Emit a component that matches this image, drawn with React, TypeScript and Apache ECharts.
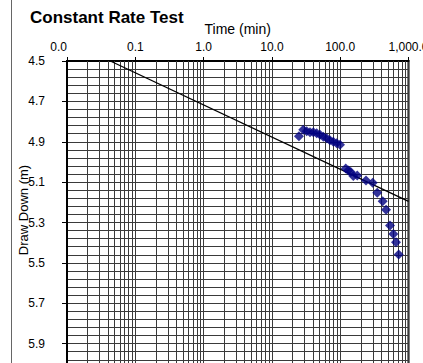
import React, { useEffect, useRef } from "react";
import * as echarts from "echarts";

const chartTitle = "Constant Rate Test";
const xAxisTitle = "Time (min)";
const yAxisTitle = "Draw Down (m)";

// measured points
const timeMin = [24.9, 28.8, 32.3, 36.1, 40.4, 45.3, 50.6, 56.6, 63.4, 70.8, 79.3, 88.9, 99.3, 120.5, 131.5, 142.6, 155.6, 177.8, 238.8, 299, 349, 419, 469, 536, 600, 656, 719];
const drawDown = [4.873, 4.84, 4.848, 4.853, 4.853, 4.858, 4.865, 4.875, 4.883, 4.892, 4.9, 4.907, 4.915, 5.032, 5.042, 5.05, 5.07, 5.067, 5.092, 5.103, 5.153, 5.195, 5.237, 5.315, 5.357, 5.398, 5.458];

// straight fit line (semi-log)
const fitTime = [0.043, 1000];
const fitDrawDown = [4.5, 5.195];

// axes
const xDecades = [0.01, 0.1, 1, 10, 100];
const xMinorMultipliers = [2, 3, 4, 5, 6, 7, 8, 9];
const xMin = 0.01;
const xMax = 1000;
const yMin = 4.5;
const yMax = 6.1;
const yStep = 0.2;

const FONT = "'Liberation Sans', Arial, sans-serif";

export default function App() {
  const ref = useRef<HTMLDivElement>(null);
  useEffect(() => {
    if (!ref.current) return;
    const chart = echarts.init(ref.current, null, { renderer: "svg" });
    const minorX: { xAxis: number }[] = [];
    xDecades.forEach((d) => xMinorMultipliers.forEach((m) => minorX.push({ xAxis: d * m })));
    const gridColor = "#3a3a3a";
    chart.setOption({
      animation: false,
      backgroundColor: "#fff",
      title: {
        text: chartTitle,
        left: 25,
        top: 4,
        textStyle: { fontFamily: FONT, fontSize: 17, fontWeight: "bold", color: "#000" },
      },
      graphic: [
        {
          type: "line",
          shape: { x1: 11.5, y1: 0, x2: 11.5, y2: 400 },
          style: { stroke: "#666", lineWidth: 1 },
        },
        {
          type: "text",
          x: 23,
          y: 210,
          rotation: Math.PI / 2,
          style: {
            text: yAxisTitle,
            fontFamily: FONT,
            fontSize: 13,
            fill: "#000",
            textAlign: "center",
            textVerticalAlign: "middle",
          },
        },
      ],
      grid: {
        left: 67,
        right: 14.5,
        top: 61,
        bottom: 16,
        show: true,
        borderColor: "#000",
        borderWidth: 2,
        backgroundColor: "transparent",
        outerBoundsMode: "none",
        containLabel: false,
      },
      xAxis: {
        type: "log",
        logBase: 10,
        position: "top",
        min: xMin,
        max: xMax,
        name: xAxisTitle,
        nameLocation: "middle",
        nameGap: 21,
        nameTextStyle: { fontFamily: FONT, fontSize: 14, color: "#000" },
        axisLine: { show: true, lineStyle: { color: "#000", width: 2 } },
        axisTick: { show: true, length: 4, lineStyle: { color: "#000" } },
        axisLabel: {
          fontFamily: FONT,
          fontSize: 12,
          color: "#000",
          margin: 8,
          alignMinLabel: "right",
          formatter: (v: number) =>
            v.toLocaleString("en-US", { minimumFractionDigits: 1, maximumFractionDigits: 1 }),
        },
        splitLine: { show: true, lineStyle: { color: gridColor, width: 1 } },
      },
      yAxis: {
        type: "value",
        inverse: true,
        min: yMin,
        max: yMax,
        interval: yStep,
        axisLine: { show: true, lineStyle: { color: "#000", width: 2 } },
        axisTick: { show: true, length: 5, lineStyle: { color: "#000" } },
        axisLabel: {
          fontFamily: FONT,
          fontSize: 12,
          color: "#000",
          margin: 22,
          showMaxLabel: false,
          formatter: (v: number) => v.toFixed(1),
        },
        splitLine: { show: true, lineStyle: { color: gridColor, width: 1 } },
        minorTick: { show: false, splitNumber: 5 },
        minorSplitLine: { show: true, lineStyle: { color: gridColor, width: 1 } },
      },
      series: [
        {
          type: "line",
          data: fitTime.map((t, i) => [t, fitDrawDown[i]]),
          showSymbol: false,
          symbol: "none",
          lineStyle: { color: "#000", width: 1.3 },
          silent: true,
          z: 3,
        },
        {
          type: "scatter",
          data: timeMin.map((t, i) => [t, drawDown[i]]),
          symbol: "diamond",
          symbolSize: 10,
          itemStyle: { color: "#000080" },
          z: 4,
          markLine: {
            silent: true,
            symbol: "none",
            label: { show: false },
            lineStyle: { color: gridColor, width: 1, type: "solid" },
            data: minorX,
            z: 1,
          },
        },
      ],
    });
    return () => chart.dispose();
  }, []);
  return (
    <div style={{ position: "absolute", left: 0, top: 0, width: 423, height: 363, overflow: "hidden" }}>
      <div ref={ref} style={{ width: 423, height: 400 }} />
    </div>
  );
}
